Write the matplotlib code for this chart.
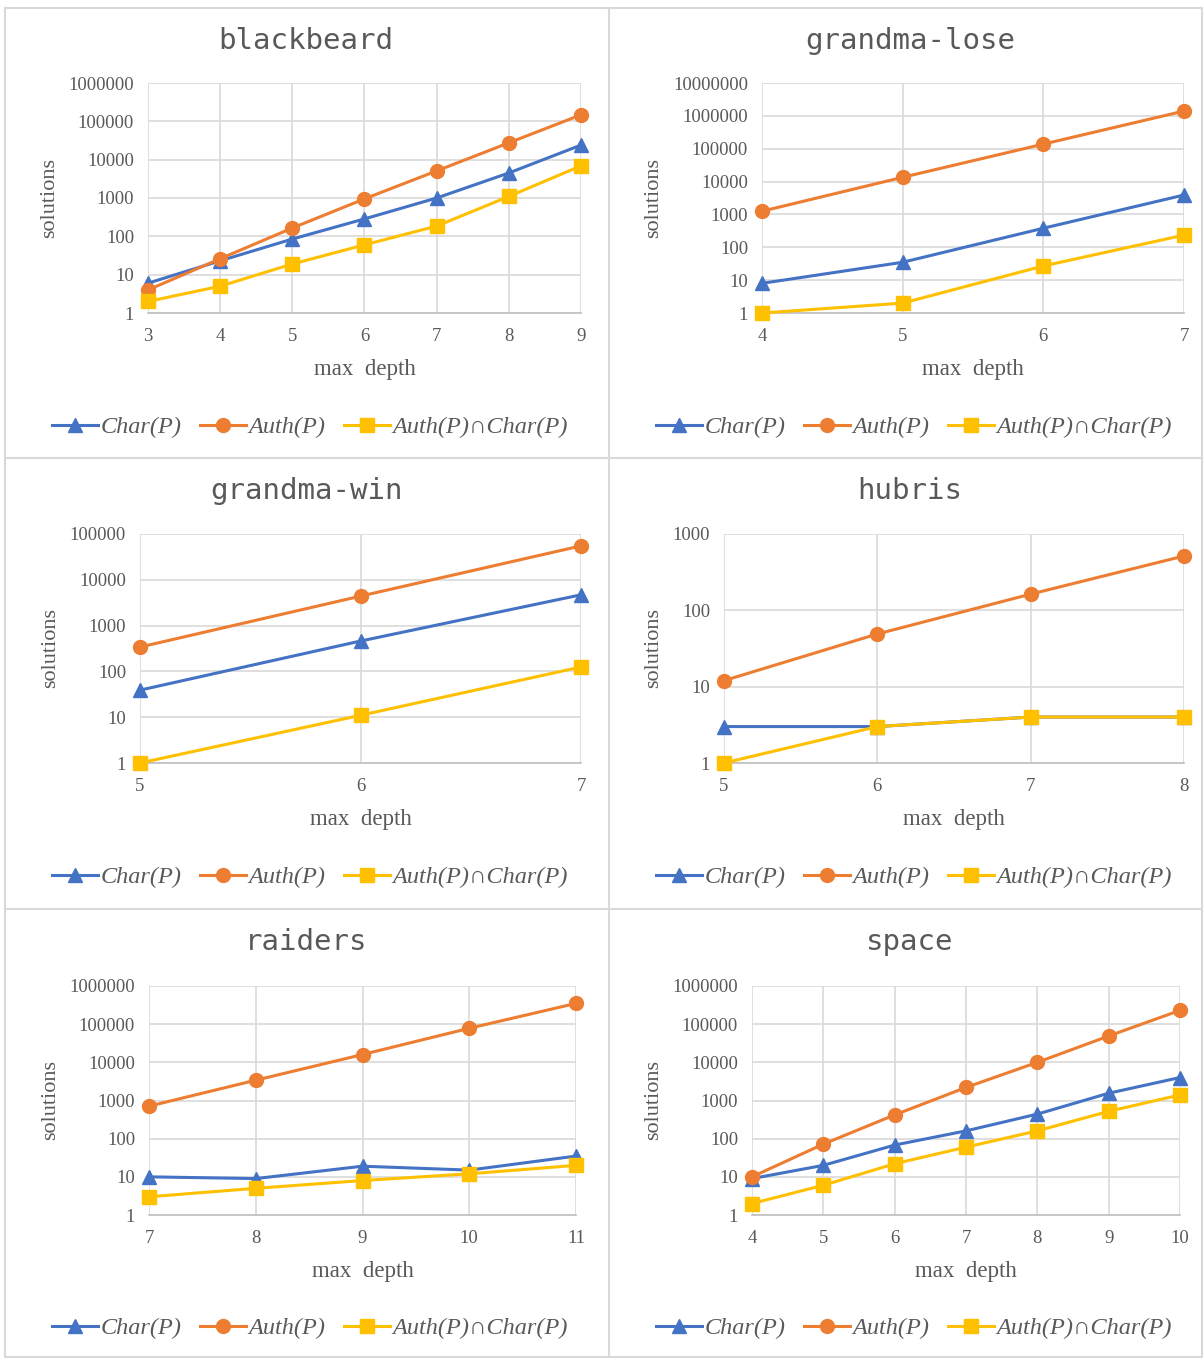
import numpy as np
import matplotlib
matplotlib.use('Agg')
from matplotlib import pyplot as plt
from matplotlib.lines import Line2D
from matplotlib.ticker import FixedLocator, FuncFormatter, NullLocator

# 数据
titles = ['blackbeard', 'grandma-lose', 'grandma-win', 'hubris', 'raiders', 'space']

bb_depth = [3, 4, 5, 6, 7, 8, 9]
bb_char = [6, 23, 85, 285, 1000, 4500, 24000]
bb_auth = [4, 26, 165, 950, 5100, 27500, 148000]
bb_both = [2, 5, 19, 60, 185, 1100, 6900]

gl_depth = [4, 5, 6, 7]
gl_char = [8, 35, 380, 3900]
gl_auth = [1250, 13500, 138000, 1400000]
gl_both = [1, 2, 27, 235]

gw_depth = [5, 6, 7]
gw_char = [39, 460, 4700]
gw_auth = [340, 4400, 55000]
gw_both = [1, 11, 125]

hb_depth = [5, 6, 7, 8]
hb_char = [3, 3, 4, 4]
hb_auth = [12, 49, 163, 515]
hb_both = [1, 3, 4, 4]

rd_depth = [7, 8, 9, 10, 11]
rd_char = [10, 9, 19, 15, 35]
rd_auth = [710, 3400, 16000, 78000, 350000]
rd_both = [3, 5, 8, 12, 20]

sp_depth = [4, 5, 6, 7, 8, 9, 10]
sp_char = [9, 20, 68, 160, 440, 1550, 4000]
sp_auth = [10, 72, 420, 2200, 10000, 49000, 230000]
sp_both = [2, 6, 22, 60, 160, 520, 1400]

panels = [
    (bb_depth, bb_char, bb_auth, bb_both, 6),
    (gl_depth, gl_char, gl_auth, gl_both, 7),
    (gw_depth, gw_char, gw_auth, gw_both, 5),
    (hb_depth, hb_char, hb_auth, hb_both, 3),
    (rd_depth, rd_char, rd_auth, rd_both, 6),
    (sp_depth, sp_char, sp_auth, sp_both, 6),
]

series_names = ['Char(P)', 'Auth(P)', 'Auth(P)\u2229Char(P)']
colors = ['#4472C4', '#ED7D31', '#FFC000']
markers = ['^', 'o', 's']

W, H = 1203, 1358
fig = plt.figure(figsize=(W / 100, H / 100), dpi=100)

def fx(px):
    return px / W

def fy(py):
    return 1 - py / H

# 坐标轴位置 (像素: 左, 上, 右, 下)
rects = [
    (148, 83, 581, 313),
    (762, 83, 1184, 313),
    (140, 534, 581, 763),
    (724, 534, 1184, 763),
    (149, 986, 576, 1215),
    (752, 986, 1180, 1215),
]
panel_cx = [306, 910, 306, 910, 306, 910]
panel_top = [8, 8, 458, 458, 909, 909]

serif = ['Liberation Serif', 'DejaVu Serif']
gray = '#595959'
grid = '#D9D9D9'

for i, (rect, title, data) in enumerate(zip(rects, titles, panels)):
    l, t, r, b = rect
    ax = fig.add_axes([fx(l), fy(b), fx(r - l), (b - t) / H])
    depth, char, auth, both, top = data
    for vals, c, m in zip([char, auth, both], colors, markers):
        ax.plot(depth, vals, color=c, marker=m, lw=2.2, ms=10, clip_on=False, zorder=3)
    ax.set_yscale('log')
    ax.set_ylim(1, 10 ** top)
    ax.set_xlim(depth[0], depth[-1])
    ax.yaxis.set_major_locator(FixedLocator([10 ** k for k in range(top + 1)]))
    ax.yaxis.set_minor_locator(NullLocator())
    ax.yaxis.set_major_formatter(FuncFormatter(lambda v, p: '%d' % round(v)))
    ax.set_xticks(depth)
    ax.grid(True, color=grid, lw=1.2)
    ax.set_axisbelow(True)
    for s in ['top', 'right', 'left']:
        ax.spines[s].set_visible(False)
    ax.spines['bottom'].set_color('#BFBFBF')
    ax.spines['bottom'].set_linewidth(1.2)
    ax.tick_params(length=0, labelsize=13.5, labelcolor=gray, pad=10)
    ax.tick_params(axis='x', pad=11)
    for lab in ax.get_xticklabels() + ax.get_yticklabels():
        lab.set_family(serif)
    ax.set_xlabel('max  depth', family=serif, fontsize=16.5, color=gray, labelpad=10)
    ax.set_ylabel('solutions', family=serif, fontsize=16, color=gray, labelpad=7)

    fig.text(fx(panel_cx[i]), fy(panel_top[i] + 33), title, family='DejaVu Sans Mono',
             fontsize=21, color=gray, ha='center', va='center')

    handles = [Line2D([], [], color=c, marker=m, lw=2.2, ms=10) for c, m in zip(colors, markers)]
    fig.legend(handles, series_names, loc='center',
               bbox_to_anchor=(fx(panel_cx[i] + 4), fy(panel_top[i] + 419)),
               ncol=3, frameon=False, handlelength=1.9, handletextpad=0.1,
               columnspacing=0.75, prop={'family': serif, 'style': 'italic', 'size': 17.5},
               labelcolor=gray)

# 面板边框
for x in [5, 609, 1202]:
    fig.add_artist(Line2D([fx(x), fx(x)], [fy(8), fy(1357)], color=grid, lw=1.5))
for y in [8, 458, 909, 1357]:
    fig.add_artist(Line2D([fx(5), fx(1202)], [fy(y), fy(y)], color=grid, lw=1.5))

fig.savefig('out.png', dpi=100, facecolor='white')
